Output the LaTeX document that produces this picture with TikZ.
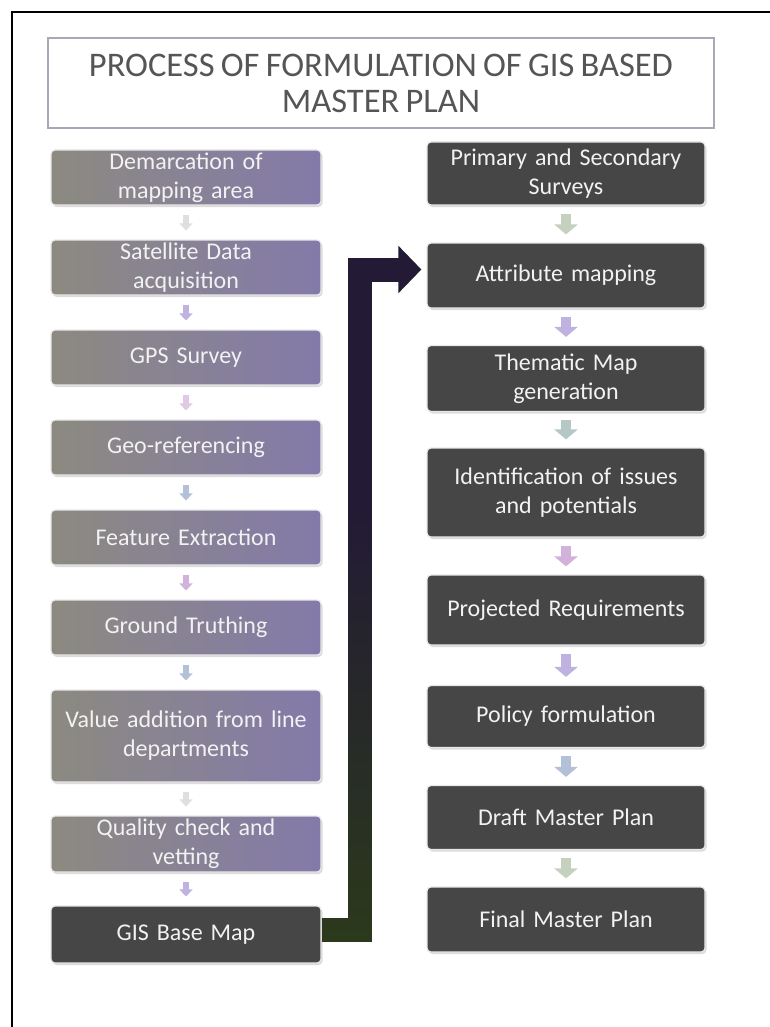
\documentclass[tikz,border=0pt]{standalone}
\usepackage{fontspec}
\setmainfont{Carlito}[WordSpace=0.8]
\usetikzlibrary{arrows.meta,calc,shadows,fadings}
\definecolor{darkbox}{HTML}{464646}
\definecolor{lgA}{HTML}{8C8A80}
\definecolor{lgB}{HTML}{9A80A0}
\definecolor{lgC}{HTML}{847AAA}
\definecolor{conncol}{HTML}{231A36}
\definecolor{conngreen}{HTML}{2C3A1C}
\definecolor{titletext}{HTML}{555555}
\definecolor{titleframe}{HTML}{A8A8B8}
\definecolor{aGreen}{HTML}{C6D0BE}
\definecolor{aLav}{HTML}{BFB2E0}
\definecolor{aTeal}{HTML}{B6C8C6}
\definecolor{aPink}{HTML}{D2B2DA}
\definecolor{aBlue}{HTML}{B2C0D8}
\tikzfading[name=fadeupward, top color=transparent!100, bottom color=transparent!0]
\begin{document}
\begin{tikzpicture}[x=1pt,y=-1pt,
  box/.style={rounded corners=4pt, draw=white!82!gray, line width=1.2pt,
    text=white!95!black, align=center, inner sep=0pt,
    font=\fontsize{24}{29}\selectfont,
    drop shadow={shadow xshift=1.5pt, shadow yshift=-2pt, fill=gray!45, opacity=0.6}},
  lbox/.style={box, text width=262pt, minimum width=270pt,
    left color=lgA, middle color=lgB, right color=lgC},
  dbox/.style={box, text width=268pt, minimum width=278pt, fill=darkbox},
  sarrow/.style={line width=10pt, draw=#1,
    -{Triangle[length=10pt,width=23pt]}, shorten <=8pt, shorten >=8pt},
  larrow/.style={line width=6pt, draw=#1,
    -{Triangle[length=7pt,width=13pt]}, shorten <=9pt, shorten >=9pt},
  conn/.style={line width=24pt, draw=conncol,
    -{Triangle[length=23pt,width=46pt]}, shorten >=5pt}
]
\useasboundingbox (0,0) rectangle (770,1027);
\fill[white] (0,0) rectangle (770,1027);
\draw[line width=2pt, black] (12,1027) -- (12,12) -- (770,12);

\node[draw=titleframe, line width=1.5pt, minimum width=666pt, minimum height=90pt,
  text=titletext, align=center, font=\fontsize{34.5}{36}\selectfont] (title) at (381,83)
  {PROCESS OF FORMULATION OF GIS BASED\\MASTER PLAN};

% left column
\node[lbox, minimum height=55pt] (L1) at (186,177.5) {Demarcation of\\mapping area};
\node[lbox, minimum height=55pt] (L2) at (186,267.5) {Satellite Data\\acquisition};
\node[lbox, minimum height=55pt] (L3) at (186,357.5) {GPS Survey};
\node[lbox, minimum height=55pt] (L4) at (186,447.5) {Geo-referencing};
\node[lbox, minimum height=55pt] (L5) at (186,537.5) {Feature Extraction};
\node[lbox, minimum height=55pt] (L6) at (186,627.5) {Ground Truthing};
\node[lbox, minimum height=92pt] (L7) at (186,736) {Value addition from line\\departments};
\node[lbox, minimum height=56pt] (L8) at (186,844) {Quality check and\\vetting};
\node[dbox, text width=262pt, minimum width=270pt, minimum height=57pt] (L9) at (186,934.5) {GIS Base Map};

% right column
\node[dbox, minimum height=63pt] (R1) at (566,173.5) {Primary and Secondary\\Surveys};
\node[dbox, minimum height=65pt] (R2) at (566,275.5) {Attribute mapping};
\node[dbox, minimum height=66pt] (R3) at (566,378.5) {Thematic Map\\generation};
\node[dbox, minimum height=89pt] (R4) at (566,492.5) {Identification of issues\\and potentials};
\node[dbox, minimum height=70pt] (R5) at (566,610) {Projected Requirements};
\node[dbox, minimum height=62pt] (R6) at (566,716.5) {Policy formulation};
\node[dbox, minimum height=64pt] (R7) at (566,817.5) {Draft Master Plan};
\node[dbox, minimum height=65pt] (R8) at (566,919.5) {Final Master Plan};

% left small arrows
\draw[larrow=gray!25] (L1.south) -- (L2.north);
\draw[larrow=aLav] (L2.south) -- (L3.north);
\draw[larrow=aPink!70] (L3.south) -- (L4.north);
\draw[larrow=aBlue] (L4.south) -- (L5.north);
\draw[larrow=aPink] (L5.south) -- (L6.north);
\draw[larrow=aBlue] (L6.south) -- (L7.north);
\draw[larrow=gray!25] (L7.south) -- (L8.north);
\draw[larrow=aLav] (L8.south) -- (L9.north);

% right small arrows
\draw[sarrow=aGreen] (R1.south) -- (R2.north);
\draw[sarrow=aLav] (R2.south) -- (R3.north);
\draw[sarrow=aTeal] (R3.south) -- (R4.north);
\draw[sarrow=aPink] (R4.south) -- (R5.north);
\draw[sarrow=aLav] (R5.south) -- (R6.north);
\draw[sarrow=aBlue] (R6.south) -- (R7.north);
\draw[sarrow=aGreen] (R7.south) -- (R8.north);

% main connector
\draw[conn] ([yshift=5pt]L9.east) -- ++(38.5,0) |- ([yshift=6pt]R2.west);
\draw[line width=24pt, draw=conngreen, path fading=fadeupward]
  ([yshift=5pt]L9.east) -- ++(38.5,0) -- ++(0,-420);
\end{tikzpicture}
\end{document}
